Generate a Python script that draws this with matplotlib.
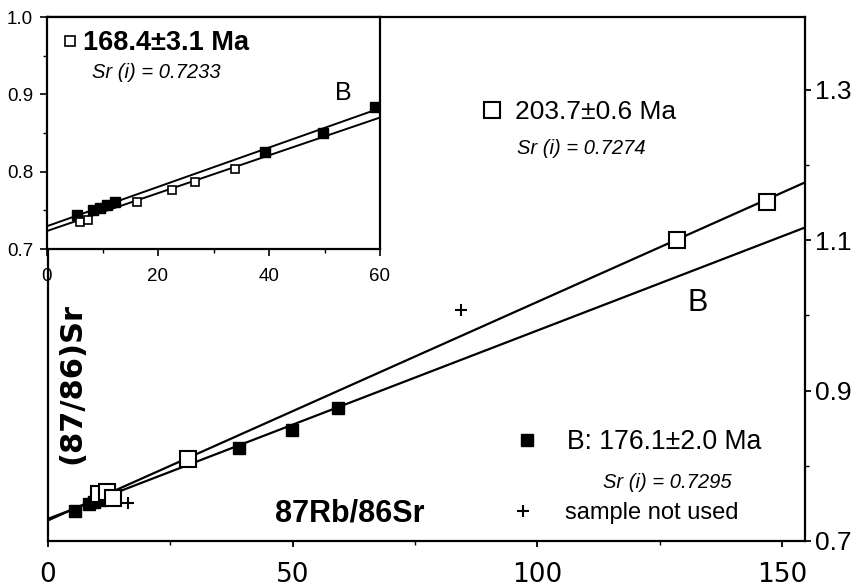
import numpy as np
import matplotlib
matplotlib.use("Agg")
import matplotlib.pyplot as plt
from matplotlib.lines import Line2D

W, H = 857, 588

# main plot: all samples
main_filled_x = [5.5, 8.3, 9.5, 10.7, 12.2, 39.0, 49.9, 59.3]
main_filled_y = [0.740, 0.749, 0.752, 0.755, 0.758, 0.824, 0.847, 0.877]
main_open_x = [10.5, 12.0, 13.3, 28.6, 128.5, 147.0]
main_open_y = [0.763, 0.765, 0.757, 0.809, 1.100, 1.151]
unused_x = [16.4, 84.5]
unused_y = [0.751, 1.007]

# isochron lines (end points)
line_a_x = [0, 154.7]
line_a_y = [0.7274, 1.177]
line_b_x = [0, 154.7]
line_b_y = [0.7295, 1.117]

# inset: low Rb/Sr samples
ins_filled_x = [5.35, 8.3, 9.5, 10.75, 12.25, 39.3, 49.8, 59.1]
ins_filled_y = [0.744, 0.750, 0.753, 0.757, 0.761, 0.826, 0.850, 0.884]
ins_open_x = [5.9, 7.4, 16.2, 22.5, 26.7, 33.9]
ins_open_y = [0.735, 0.738, 0.761, 0.776, 0.786, 0.803]
ins_line_a_x = [0, 60]
ins_line_a_y = [0.7233, 0.870]
ins_line_b_x = [0, 60]
ins_line_b_y = [0.7295, 0.882]

main_xticks = [0, 50, 100, 150]
main_yticks = [0.7, 0.9, 1.1, 1.3]
ins_xticks = [0, 20, 40, 60]
ins_yticks = [0.7, 0.8, 0.9, 1.0]

SANS = ['Liberation Sans', 'DejaVu Sans']


def fx(x):
    return x / W


def fy(y):
    return 1 - y / H


fig = plt.figure(figsize=(W / 100, H / 100), dpi=100)

# ---- main axes
ax = fig.add_axes([fx(48), fy(541), fx(805) - fx(48), fy(17) - fy(541)])
ax.plot(line_a_x, line_a_y, color='black', lw=1.6)
ax.plot(line_b_x, line_b_y, color='black', lw=1.6)
ax.plot(main_filled_x, main_filled_y, 's', color='black', ms=8)
ax.plot(main_open_x, main_open_y, 's', mfc='white', mec='black', mew=1.5, ms=12)
ax.plot(unused_x, unused_y, '+', color='black', ms=9, mew=1.5)
ax.set_xlim(0, 154.7)
ax.set_ylim(0.7, 1.397)
ax.yaxis.tick_right()
ax.set_xticks(main_xticks)
ax.set_xticks([25, 75, 125], minor=True)
ax.set_yticks(main_yticks)
ax.set_yticks([0.8, 1.0, 1.2], minor=True)
ax.set_yticklabels([f'{v:.1f}' for v in main_yticks], family=SANS, fontsize=19)
ax.set_xticklabels([str(v) for v in main_xticks], family='DejaVu Sans', fontsize=19)
ax.tick_params(axis='x', which='major', direction='out', length=4, width=1.3, pad=11)
ax.tick_params(axis='x', which='minor', direction='out', length=3, width=1.0)
ax.tick_params(axis='y', which='major', direction='out', length=4.5, width=1.3, pad=3)
ax.tick_params(axis='y', which='minor', direction='out', length=3, width=1.0)
for s in ax.spines.values():
    s.set_linewidth(1.6)

# ---- inset
ins = fig.add_axes([fx(47), fy(249), fx(380) - fx(47), fy(17) - fy(249)])
ins.set_facecolor('white')
ins.plot(ins_line_a_x, ins_line_a_y, color='black', lw=1.4)
ins.plot(ins_line_b_x, ins_line_b_y, color='black', lw=1.4)
ins.plot(ins_filled_x, ins_filled_y, 's', color='black', ms=7)
ins.plot(ins_open_x, ins_open_y, 's', mfc='white', mec='black', mew=1.2, ms=6)
ins.set_xlim(0, 60)
ins.set_ylim(0.7, 1.0)
ins.set_xticks(ins_xticks)
ins.set_xticks([10, 30, 50], minor=True)
ins.set_yticks(ins_yticks)
ins.set_yticks([0.75, 0.85, 0.95], minor=True)
ins.set_xticklabels([str(v) for v in ins_xticks], family=SANS, fontsize=13.5)
ins.set_yticklabels([f'{v:.1f}' for v in ins_yticks], family=SANS, fontsize=13.5)
ins.tick_params(which='major', direction='out', length=5, width=1.2, pad=5)
ins.tick_params(which='minor', direction='out', length=3, width=1.0)
ins.tick_params(axis='x', which='major', pad=9)
for s in ins.spines.values():
    s.set_linewidth(1.6)

# ---- legends
fig.legend(handles=[Line2D([], [], ls='none', marker='s', mfc='white', mec='black', mew=1.5, ms=11.5)],
           labels=['203.7\u00b10.6 Ma'], loc='center left',
           bbox_to_anchor=(fx(481.4), fy(112)), bbox_transform=fig.transFigure,
           frameon=False, borderpad=0, borderaxespad=0, handlelength=0.8,
           handletextpad=0.47, prop={'family': SANS, 'size': 19})
fig.legend(handles=[Line2D([], [], ls='none', marker='s', color='black', ms=8.5)],
           labels=['B: 176.1\u00b12.0 Ma'], loc='center left',
           bbox_to_anchor=(fx(516.3), fy(442)), bbox_transform=fig.transFigure,
           frameon=False, borderpad=0, borderaxespad=0, handlelength=0.8,
           handletextpad=1.10, prop={'family': SANS, 'size': 19.2})
fig.legend(handles=[Line2D([], [], ls='none', marker='+', color='black', ms=9, mew=1.5)],
           labels=['sample not used'], loc='center left',
           bbox_to_anchor=(fx(513.6), fy(513)), bbox_transform=fig.transFigure,
           frameon=False, borderpad=0, borderaxespad=0, handlelength=0.8,
           handletextpad=1.38, prop={'family': SANS, 'size': 17})
ins_leg = fig.legend(handles=[Line2D([], [], ls='none', marker='s', mfc='white', mec='black', mew=1.2, ms=6.5)],
                     labels=['168.4\u00b13.1 Ma'], loc='center left',
                     bbox_to_anchor=(fx(63.2), fy(43)), bbox_transform=fig.transFigure,
                     frameon=False, borderpad=0, borderaxespad=0, handlelength=0.5,
                     handletextpad=0.23, prop={'family': SANS, 'size': 19.5, 'weight': 'bold'})
ins_leg.set_zorder(10)

# ---- texts
it = dict(family=SANS, style='italic', fontsize=14.5, va='center')
fig.text(fx(517), fy(148), 'Sr (i) = 0.7274', ha='left', **it)
fig.text(fx(732), fy(482), 'Sr (i) = 0.7295', ha='right', **it)
fig.text(fx(92), fy(72), 'Sr (i) = 0.7233', ha='left', zorder=10, **it)
fig.text(fx(698), fy(303), 'B', family=SANS, fontsize=22, ha='center', va='center')
fig.text(fx(343), fy(93), 'B', family=SANS, fontsize=18, ha='center', va='center', zorder=10)
fig.text(fx(350), fy(513), '87Rb/86Sr', family=SANS, fontsize=22, fontweight='bold',
         ha='center', va='center')
fig.text(fx(72), fy(383), '(87/86)Sr', family='DejaVu Sans', fontsize=22, fontweight='bold',
         rotation=90, ha='center', va='center')

fig.savefig('out.png', dpi=100)
